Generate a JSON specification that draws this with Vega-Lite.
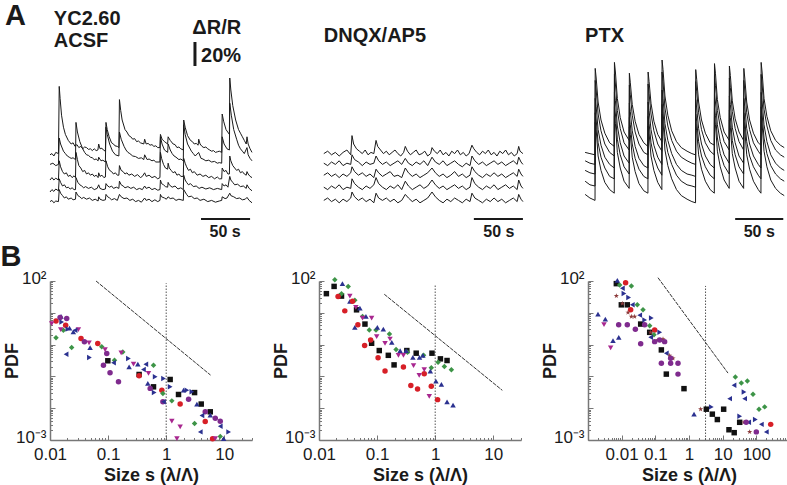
{
"$schema": "https://vega.github.io/schema/vega-lite/v6.json",
"padding": 0,
"background": "white",
"config": {
 "view": {"stroke": null},
 "font": "Liberation Sans",
 "axis": {"grid": false, "domainColor": "#777", "domainWidth": 1.5, "tickColor": "#777", "tickWidth": 1, "labelFont": "Liberation Sans", "labelFontSize": 17, "labelColor": "#1a1a1a", "titleFont": "Liberation Sans", "titleFontSize": 18, "titleFontWeight": "bold", "titleColor": "#1a1a1a", "labelOverlap": false, "labelFlush": false}
},
"columns": 3,
"spacing": {"row": 41, "column": 67},
"bounds": "flush",
"datasets": {
"a1": [
{"k":1,"t":0,"v":71},{"k":1,"t":2,"v":72},{"k":1,"t":4,"v":70},{"k":1,"t":6,"v":73},{"k":1,"t":8.8,"v":72},{"k":1,"t":9.6,"v":128},{"k":1,"t":10.5,"v":118},{"k":1,"t":12,"v":104},{"k":1,"t":14,"v":94},{"k":1,"t":16,"v":88},{"k":1,"t":19,"v":83},{"k":1,"t":22,"v":80},{"k":1,"t":24,"v":81},{"k":1,"t":26,"v":78},{"k":1,"t":28,"v":79.5},{"k":1,"t":30,"v":77},{"k":1,"t":32,"v":78},{"k":1,"t":34,"v":76},{"k":1,"t":36,"v":77.5},{"k":1,"t":38,"v":77},{"k":1,"t":40,"v":75.5},{"k":1,"t":42,"v":76},{"k":1,"t":44,"v":74.5},{"k":1,"t":46,"v":76},{"k":1,"t":48,"v":74.5},{"k":1,"t":49.8,"v":75},{"k":1,"t":50.6,"v":80},{"k":1,"t":52,"v":76},{"k":1,"t":54,"v":76.5},{"k":1,"t":55.5,"v":75},{"k":1,"t":57.6,"v":74},{"k":1,"t":58.2,"v":98},{"k":1,"t":59.5,"v":92},{"k":1,"t":61.5,"v":86},{"k":1,"t":64,"v":81},{"k":1,"t":66,"v":80},{"k":1,"t":67.5,"v":78.5},{"k":1,"t":70,"v":78},{"k":1,"t":71.6,"v":77},{"k":1,"t":72.2,"v":117},{"k":1,"t":73.5,"v":108},{"k":1,"t":75,"v":100},{"k":1,"t":78,"v":92},{"k":1,"t":80,"v":90},{"k":1,"t":82,"v":87},{"k":1,"t":84,"v":86},{"k":1,"t":86,"v":84},{"k":1,"t":88,"v":84.5},{"k":1,"t":90,"v":82},{"k":1,"t":92,"v":82.5},{"k":1,"t":94,"v":81},{"k":1,"t":97.5,"v":80},{"k":1,"t":98.4,"v":84},{"k":1,"t":100,"v":80},{"k":1,"t":102,"v":80.5},{"k":1,"t":104,"v":79},{"k":1,"t":106,"v":79.5},{"k":1,"t":108,"v":78},{"k":1,"t":110,"v":78.5},{"k":1,"t":112,"v":77},{"k":1,"t":114.3,"v":77},{"k":1,"t":114.8,"v":88},{"k":1,"t":116.5,"v":84},{"k":1,"t":119,"v":82},{"k":1,"t":122.3,"v":80},{"k":1,"t":122.8,"v":86},{"k":1,"t":125,"v":83},{"k":1,"t":128,"v":80},{"k":1,"t":130,"v":79.5},{"k":1,"t":132,"v":77},{"k":1,"t":134,"v":77.5},{"k":1,"t":136,"v":76},{"k":1,"t":138.6,"v":75},{"k":1,"t":139,"v":100},{"k":1,"t":140.5,"v":94},{"k":1,"t":143,"v":87},{"k":1,"t":146,"v":83},{"k":1,"t":148,"v":82},{"k":1,"t":150,"v":80},{"k":1,"t":152,"v":80.5},{"k":1,"t":154,"v":79},{"k":1,"t":154.6,"v":84},{"k":1,"t":156,"v":80},{"k":1,"t":158,"v":78},{"k":1,"t":160,"v":77},{"k":1,"t":162,"v":77.5},{"k":1,"t":164,"v":76},{"k":1,"t":166,"v":75},{"k":1,"t":168,"v":74},{"k":1,"t":170,"v":74.5},{"k":1,"t":172,"v":73},{"k":1,"t":174,"v":73.5},{"k":1,"t":176,"v":74},{"k":1,"t":178.5,"v":73},{"k":1,"t":179,"v":105},{"k":1,"t":180.5,"v":99},{"k":1,"t":183,"v":92},{"k":1,"t":186.5,"v":88},{"k":1,"t":186.9,"v":135},{"k":1,"t":188,"v":125},{"k":1,"t":190,"v":112},{"k":1,"t":193,"v":100},{"k":1,"t":196,"v":92},{"k":1,"t":198,"v":89},{"k":1,"t":200,"v":86},{"k":1,"t":202,"v":83},{"k":1,"t":204,"v":80},{"k":1,"t":204.8,"v":86},{"k":1,"t":206,"v":80},{"k":1,"t":208,"v":76},{"k":1,"t":210,"v":73},
{"k":2,"t":0,"v":63},{"k":2,"t":3,"v":64},{"k":2,"t":6,"v":62},{"k":2,"t":8.8,"v":63},{"k":2,"t":9.6,"v":85},{"k":2,"t":11,"v":80},{"k":2,"t":14,"v":74},{"k":2,"t":16,"v":72},{"k":2,"t":18,"v":70},{"k":2,"t":20,"v":69},{"k":2,"t":22,"v":68},{"k":2,"t":24,"v":68.5},{"k":2,"t":26.5,"v":67},{"k":2,"t":27,"v":98},{"k":2,"t":28.5,"v":90},{"k":2,"t":31,"v":82},{"k":2,"t":34,"v":76},{"k":2,"t":36,"v":73},{"k":2,"t":38,"v":71},{"k":2,"t":40,"v":70.5},{"k":2,"t":42,"v":69},{"k":2,"t":44,"v":68.5},{"k":2,"t":46,"v":67},{"k":2,"t":48,"v":67.5},{"k":2,"t":50,"v":66},{"k":2,"t":50.6,"v":69},{"k":2,"t":53,"v":66},{"k":2,"t":55,"v":66.5},{"k":2,"t":57.6,"v":65},{"k":2,"t":58.2,"v":94},{"k":2,"t":59.5,"v":88},{"k":2,"t":62,"v":80},{"k":2,"t":65,"v":74},{"k":2,"t":68,"v":71},{"k":2,"t":71.6,"v":70},{"k":2,"t":72.2,"v":90},{"k":2,"t":74,"v":84},{"k":2,"t":77,"v":78},{"k":2,"t":79,"v":75},{"k":2,"t":81,"v":73},{"k":2,"t":83,"v":72},{"k":2,"t":86,"v":70},{"k":2,"t":89,"v":69.5},{"k":2,"t":92,"v":68},{"k":2,"t":95,"v":68.5},{"k":2,"t":97.5,"v":67},{"k":2,"t":98.4,"v":71},{"k":2,"t":101,"v":67},{"k":2,"t":103,"v":67.5},{"k":2,"t":106,"v":66},{"k":2,"t":108,"v":66.5},{"k":2,"t":110,"v":65},{"k":2,"t":114.3,"v":65},{"k":2,"t":114.8,"v":86},{"k":2,"t":116.5,"v":80},{"k":2,"t":119,"v":75},{"k":2,"t":122.3,"v":73},{"k":2,"t":122.8,"v":80},{"k":2,"t":125,"v":75},{"k":2,"t":127,"v":72},{"k":2,"t":129,"v":70},{"k":2,"t":131,"v":69},{"k":2,"t":134,"v":67},{"k":2,"t":136,"v":67.5},{"k":2,"t":138.6,"v":66},{"k":2,"t":139,"v":96},{"k":2,"t":140.5,"v":88},{"k":2,"t":143,"v":80},{"k":2,"t":147,"v":74},{"k":2,"t":149,"v":72},{"k":2,"t":151,"v":70},{"k":2,"t":154.5,"v":73},{"k":2,"t":157,"v":68},{"k":2,"t":159,"v":67.5},{"k":2,"t":162,"v":66},{"k":2,"t":165,"v":66.5},{"k":2,"t":168,"v":65},{"k":2,"t":171,"v":65.5},{"k":2,"t":174,"v":64},{"k":2,"t":176,"v":64.5},{"k":2,"t":178.5,"v":64},{"k":2,"t":179,"v":86},{"k":2,"t":181,"v":80},{"k":2,"t":184,"v":76},{"k":2,"t":186.5,"v":75},{"k":2,"t":186.9,"v":114},{"k":2,"t":188.5,"v":104},{"k":2,"t":191,"v":92},{"k":2,"t":194,"v":84},{"k":2,"t":196,"v":79},{"k":2,"t":198,"v":76},{"k":2,"t":200,"v":74},{"k":2,"t":202,"v":72},{"k":2,"t":204.8,"v":77},{"k":2,"t":206,"v":71},{"k":2,"t":208,"v":68},{"k":2,"t":210,"v":66},
{"k":3,"t":0,"v":50},{"k":3,"t":2,"v":52},{"k":3,"t":4,"v":50},{"k":3,"t":6,"v":51.5},{"k":3,"t":8.8,"v":50},{"k":3,"t":9.6,"v":66},{"k":3,"t":11,"v":61},{"k":3,"t":13,"v":57},{"k":3,"t":15,"v":55},{"k":3,"t":17,"v":56},{"k":3,"t":19,"v":53},{"k":3,"t":21,"v":54},{"k":3,"t":23,"v":52},{"k":3,"t":25,"v":53.5},{"k":3,"t":26.5,"v":52},{"k":3,"t":27,"v":73},{"k":3,"t":28.5,"v":67},{"k":3,"t":30,"v":62},{"k":3,"t":32,"v":60},{"k":3,"t":34,"v":57},{"k":3,"t":36,"v":58},{"k":3,"t":38,"v":55},{"k":3,"t":40,"v":56},{"k":3,"t":42,"v":54},{"k":3,"t":44,"v":55},{"k":3,"t":46,"v":53},{"k":3,"t":48,"v":54},{"k":3,"t":50,"v":52},{"k":3,"t":50.6,"v":56},{"k":3,"t":52,"v":53},{"k":3,"t":54,"v":54},{"k":3,"t":56,"v":52},{"k":3,"t":57.6,"v":52.5},{"k":3,"t":58.2,"v":66},{"k":3,"t":60,"v":61},{"k":3,"t":62,"v":58},{"k":3,"t":64,"v":57},{"k":3,"t":66,"v":55},{"k":3,"t":68,"v":56},{"k":3,"t":70,"v":54},{"k":3,"t":71.6,"v":54},{"k":3,"t":72.2,"v":62},{"k":3,"t":74,"v":58},{"k":3,"t":76,"v":57},{"k":3,"t":78,"v":55},{"k":3,"t":80,"v":56},{"k":3,"t":82,"v":54},{"k":3,"t":85,"v":55},{"k":3,"t":88,"v":53},{"k":3,"t":91,"v":54.5},{"k":3,"t":94,"v":52},{"k":3,"t":96,"v":53},{"k":3,"t":98.4,"v":56},{"k":3,"t":100,"v":53},{"k":3,"t":103,"v":54},{"k":3,"t":106,"v":52},{"k":3,"t":109,"v":53},{"k":3,"t":112,"v":51},{"k":3,"t":114.3,"v":52},{"k":3,"t":114.8,"v":73},{"k":3,"t":116,"v":68},{"k":3,"t":118,"v":63},{"k":3,"t":120,"v":60},{"k":3,"t":122.3,"v":59},{"k":3,"t":122.8,"v":64},{"k":3,"t":124,"v":60},{"k":3,"t":126,"v":58},{"k":3,"t":128,"v":56},{"k":3,"t":130,"v":57},{"k":3,"t":132,"v":54},{"k":3,"t":134,"v":55},{"k":3,"t":136,"v":53},{"k":3,"t":138.6,"v":53},{"k":3,"t":139,"v":68},{"k":3,"t":140.5,"v":64},{"k":3,"t":142,"v":61},{"k":3,"t":144,"v":58},{"k":3,"t":146,"v":59},{"k":3,"t":148,"v":56},{"k":3,"t":150,"v":57},{"k":3,"t":153,"v":54},{"k":3,"t":156,"v":55},{"k":3,"t":159,"v":53},{"k":3,"t":162,"v":54},{"k":3,"t":165,"v":52},{"k":3,"t":168,"v":53},{"k":3,"t":171,"v":51},{"k":3,"t":174,"v":52.5},{"k":3,"t":176,"v":51},{"k":3,"t":178.5,"v":51},{"k":3,"t":179,"v":60},{"k":3,"t":181,"v":57},{"k":3,"t":183,"v":58},{"k":3,"t":185,"v":55},{"k":3,"t":186.5,"v":55},{"k":3,"t":186.9,"v":70},{"k":3,"t":188,"v":66},{"k":3,"t":190,"v":62},{"k":3,"t":192,"v":60},{"k":3,"t":194,"v":58},{"k":3,"t":196,"v":59},{"k":3,"t":198,"v":56},{"k":3,"t":200,"v":57},{"k":3,"t":202,"v":55},{"k":3,"t":204,"v":54},{"k":3,"t":204.8,"v":57},{"k":3,"t":206,"v":55},{"k":3,"t":208,"v":53},{"k":3,"t":210,"v":52},
{"k":4,"t":0,"v":40},{"k":4,"t":2,"v":42},{"k":4,"t":4,"v":40.5},{"k":4,"t":6,"v":42.5},{"k":4,"t":8.8,"v":41},{"k":4,"t":9.6,"v":51},{"k":4,"t":11,"v":48},{"k":4,"t":13,"v":45},{"k":4,"t":15,"v":46},{"k":4,"t":17,"v":43.5},{"k":4,"t":19,"v":44},{"k":4,"t":21,"v":42.5},{"k":4,"t":23,"v":43.5},{"k":4,"t":25,"v":42},{"k":4,"t":26.5,"v":42},{"k":4,"t":27,"v":52},{"k":4,"t":29,"v":48},{"k":4,"t":31,"v":46},{"k":4,"t":33,"v":45},{"k":4,"t":35,"v":43.5},{"k":4,"t":37,"v":44.5},{"k":4,"t":40,"v":43},{"k":4,"t":43,"v":44},{"k":4,"t":46,"v":42},{"k":4,"t":49,"v":43},{"k":4,"t":50.6,"v":46},{"k":4,"t":52,"v":43},{"k":4,"t":55,"v":42},{"k":4,"t":57.6,"v":42.5},{"k":4,"t":58.2,"v":47},{"k":4,"t":60,"v":45},{"k":4,"t":62,"v":44},{"k":4,"t":64,"v":45},{"k":4,"t":66,"v":43},{"k":4,"t":69,"v":44},{"k":4,"t":71.6,"v":43},{"k":4,"t":72.2,"v":49},{"k":4,"t":74,"v":46},{"k":4,"t":76,"v":45},{"k":4,"t":78,"v":43.5},{"k":4,"t":81,"v":44.5},{"k":4,"t":84,"v":43},{"k":4,"t":87,"v":44},{"k":4,"t":90,"v":42},{"k":4,"t":93,"v":43},{"k":4,"t":96,"v":42},{"k":4,"t":98.4,"v":45},{"k":4,"t":100,"v":43},{"k":4,"t":103,"v":44},{"k":4,"t":106,"v":42},{"k":4,"t":109,"v":43},{"k":4,"t":112,"v":41.5},{"k":4,"t":114.3,"v":42},{"k":4,"t":114.8,"v":50},{"k":4,"t":116,"v":47},{"k":4,"t":118,"v":46},{"k":4,"t":120,"v":44.5},{"k":4,"t":122.3,"v":44},{"k":4,"t":122.8,"v":48},{"k":4,"t":124,"v":46},{"k":4,"t":127,"v":44},{"k":4,"t":130,"v":45},{"k":4,"t":133,"v":42.5},{"k":4,"t":136,"v":43.5},{"k":4,"t":138.6,"v":42},{"k":4,"t":139,"v":54},{"k":4,"t":140.5,"v":50},{"k":4,"t":142,"v":48},{"k":4,"t":144,"v":46},{"k":4,"t":146,"v":47},{"k":4,"t":149,"v":44.5},{"k":4,"t":152,"v":45},{"k":4,"t":155,"v":43},{"k":4,"t":158,"v":44},{"k":4,"t":162,"v":42.5},{"k":4,"t":166,"v":43.5},{"k":4,"t":170,"v":42},{"k":4,"t":174,"v":43},{"k":4,"t":178.5,"v":42},{"k":4,"t":179,"v":47},{"k":4,"t":181,"v":45},{"k":4,"t":183,"v":46},{"k":4,"t":185,"v":44},{"k":4,"t":186.9,"v":53},{"k":4,"t":188,"v":50},{"k":4,"t":190,"v":48},{"k":4,"t":192,"v":46},{"k":4,"t":195,"v":46.5},{"k":4,"t":198,"v":44.5},{"k":4,"t":201,"v":45},{"k":4,"t":204,"v":43},{"k":4,"t":204.8,"v":46},{"k":4,"t":207,"v":43},{"k":4,"t":210,"v":41},
{"k":5,"t":0,"v":32},{"k":5,"t":2,"v":33},{"k":5,"t":4,"v":31},{"k":5,"t":6,"v":32.5},{"k":5,"t":8.8,"v":32},{"k":5,"t":9.6,"v":42},{"k":5,"t":11,"v":39},{"k":5,"t":13,"v":37},{"k":5,"t":15,"v":35},{"k":5,"t":17,"v":36},{"k":5,"t":19,"v":34},{"k":5,"t":22,"v":35},{"k":5,"t":24,"v":33.5},{"k":5,"t":26.5,"v":34},{"k":5,"t":27,"v":40},{"k":5,"t":29,"v":37},{"k":5,"t":31,"v":36},{"k":5,"t":33,"v":34.5},{"k":5,"t":35,"v":35.5},{"k":5,"t":38,"v":34},{"k":5,"t":41,"v":35},{"k":5,"t":44,"v":33},{"k":5,"t":47,"v":34},{"k":5,"t":50,"v":32.5},{"k":5,"t":50.6,"v":36},{"k":5,"t":52,"v":34},{"k":5,"t":55,"v":33},{"k":5,"t":57.6,"v":33.5},{"k":5,"t":58.2,"v":38},{"k":5,"t":60,"v":36},{"k":5,"t":62,"v":35},{"k":5,"t":64,"v":33.5},{"k":5,"t":67,"v":34.5},{"k":5,"t":70,"v":33},{"k":5,"t":72.2,"v":38},{"k":5,"t":74,"v":36},{"k":5,"t":77,"v":34.5},{"k":5,"t":80,"v":35},{"k":5,"t":83,"v":33},{"k":5,"t":86,"v":34},{"k":5,"t":89,"v":32},{"k":5,"t":92,"v":33},{"k":5,"t":95,"v":31.5},{"k":5,"t":98.4,"v":35},{"k":5,"t":100,"v":33},{"k":5,"t":103,"v":34},{"k":5,"t":106,"v":32},{"k":5,"t":109,"v":33.5},{"k":5,"t":112,"v":32},{"k":5,"t":114.3,"v":33},{"k":5,"t":114.8,"v":38},{"k":5,"t":116,"v":36},{"k":5,"t":119,"v":35},{"k":5,"t":121,"v":34},{"k":5,"t":122.8,"v":36},{"k":5,"t":125,"v":34.5},{"k":5,"t":128,"v":35},{"k":5,"t":131,"v":33},{"k":5,"t":134,"v":34},{"k":5,"t":138.6,"v":33},{"k":5,"t":139,"v":42},{"k":5,"t":140.5,"v":40},{"k":5,"t":142,"v":38},{"k":5,"t":144,"v":36},{"k":5,"t":147,"v":36.5},{"k":5,"t":150,"v":34.5},{"k":5,"t":153,"v":35},{"k":5,"t":156,"v":33},{"k":5,"t":160,"v":34},{"k":5,"t":164,"v":32},{"k":5,"t":168,"v":33},{"k":5,"t":172,"v":31.5},{"k":5,"t":176,"v":32.5},{"k":5,"t":178.5,"v":33},{"k":5,"t":179,"v":36},{"k":5,"t":182,"v":34.5},{"k":5,"t":184,"v":35},{"k":5,"t":186.9,"v":39},{"k":5,"t":188,"v":37},{"k":5,"t":191,"v":36},{"k":5,"t":194,"v":34.5},{"k":5,"t":197,"v":35},{"k":5,"t":200,"v":33.5},{"k":5,"t":203,"v":34},{"k":5,"t":204.8,"v":35.5},{"k":5,"t":207,"v":33},{"k":5,"t":210,"v":31}
],
"a2": [
{"k":1,"t":5,"v":72},{"k":1,"t":9,"v":74},{"k":1,"t":13,"v":71},{"k":1,"t":17,"v":73},{"k":1,"t":21,"v":70},{"k":1,"t":25,"v":73},{"k":1,"t":29,"v":75},{"k":1,"t":33,"v":71},{"k":1,"t":34.3,"v":87},{"k":1,"t":36,"v":80},{"k":1,"t":39,"v":76},{"k":1,"t":42,"v":74},{"k":1,"t":45,"v":72},{"k":1,"t":48,"v":75},{"k":1,"t":51,"v":71},{"k":1,"t":54,"v":73},{"k":1,"t":57,"v":72},{"k":1,"t":59.3,"v":83},{"k":1,"t":61,"v":78},{"k":1,"t":64,"v":75},{"k":1,"t":67,"v":72},{"k":1,"t":70,"v":74},{"k":1,"t":73,"v":71},{"k":1,"t":76,"v":73},{"k":1,"t":79,"v":75},{"k":1,"t":82,"v":72},{"k":1,"t":85,"v":70},{"k":1,"t":88,"v":73},{"k":1,"t":89.7,"v":78},{"k":1,"t":92,"v":74},{"k":1,"t":95,"v":71},{"k":1,"t":98,"v":73},{"k":1,"t":101,"v":75},{"k":1,"t":104,"v":71},{"k":1,"t":107,"v":72},{"k":1,"t":110,"v":74},{"k":1,"t":113,"v":70},{"k":1,"t":116,"v":72},{"k":1,"t":117.5,"v":77},{"k":1,"t":120,"v":74},{"k":1,"t":123,"v":72},{"k":1,"t":126,"v":75},{"k":1,"t":129,"v":71},{"k":1,"t":132,"v":73},{"k":1,"t":135,"v":70},{"k":1,"t":138,"v":74},{"k":1,"t":141,"v":72},{"k":1,"t":144,"v":75},{"k":1,"t":147,"v":71},{"k":1,"t":150,"v":73},{"k":1,"t":153,"v":70},{"k":1,"t":156,"v":72},{"k":1,"t":159,"v":79},{"k":1,"t":161,"v":76},{"k":1,"t":164,"v":73},{"k":1,"t":167,"v":71},{"k":1,"t":170,"v":74},{"k":1,"t":173,"v":72},{"k":1,"t":176,"v":75},{"k":1,"t":179,"v":71},{"k":1,"t":182,"v":73},{"k":1,"t":185,"v":70},{"k":1,"t":188,"v":74},{"k":1,"t":191,"v":72},{"k":1,"t":194,"v":75},{"k":1,"t":197,"v":71},{"k":1,"t":200,"v":73},{"k":1,"t":203,"v":70},{"k":1,"t":206,"v":72},{"k":1,"t":207.6,"v":78},{"k":1,"t":209,"v":74},{"k":1,"t":212,"v":72},
{"k":2,"t":5,"v":64},{"k":2,"t":9,"v":62},{"k":2,"t":13,"v":65},{"k":2,"t":17,"v":63},{"k":2,"t":21,"v":66},{"k":2,"t":25,"v":62},{"k":2,"t":29,"v":64},{"k":2,"t":33,"v":63},{"k":2,"t":34.3,"v":71},{"k":2,"t":37,"v":67},{"k":2,"t":41,"v":65},{"k":2,"t":45,"v":62},{"k":2,"t":49,"v":65},{"k":2,"t":53,"v":63},{"k":2,"t":57,"v":64},{"k":2,"t":59.3,"v":70},{"k":2,"t":62,"v":66},{"k":2,"t":66,"v":63},{"k":2,"t":70,"v":65},{"k":2,"t":74,"v":62},{"k":2,"t":78,"v":64},{"k":2,"t":82,"v":66},{"k":2,"t":86,"v":63},{"k":2,"t":89.7,"v":68},{"k":2,"t":93,"v":64},{"k":2,"t":97,"v":62},{"k":2,"t":101,"v":65},{"k":2,"t":105,"v":63},{"k":2,"t":109,"v":66},{"k":2,"t":113,"v":62},{"k":2,"t":117.5,"v":69},{"k":2,"t":121,"v":65},{"k":2,"t":125,"v":63},{"k":2,"t":129,"v":66},{"k":2,"t":133,"v":62},{"k":2,"t":137,"v":64},{"k":2,"t":141,"v":66},{"k":2,"t":145,"v":63},{"k":2,"t":149,"v":61},{"k":2,"t":153,"v":64},{"k":2,"t":157,"v":62},{"k":2,"t":159,"v":70},{"k":2,"t":162,"v":66},{"k":2,"t":166,"v":63},{"k":2,"t":170,"v":65},{"k":2,"t":174,"v":62},{"k":2,"t":178,"v":64},{"k":2,"t":182,"v":66},{"k":2,"t":186,"v":63},{"k":2,"t":190,"v":65},{"k":2,"t":194,"v":62},{"k":2,"t":198,"v":64},{"k":2,"t":202,"v":66},{"k":2,"t":206,"v":63},{"k":2,"t":207.6,"v":69},{"k":2,"t":210,"v":65},{"k":2,"t":212,"v":63},
{"k":3,"t":5,"v":54},{"k":3,"t":9,"v":56},{"k":3,"t":13,"v":53},{"k":3,"t":17,"v":55},{"k":3,"t":21,"v":52},{"k":3,"t":25,"v":55},{"k":3,"t":29,"v":53},{"k":3,"t":33,"v":56},{"k":3,"t":34.3,"v":61},{"k":3,"t":37,"v":57},{"k":3,"t":41,"v":54},{"k":3,"t":45,"v":56},{"k":3,"t":49,"v":53},{"k":3,"t":53,"v":55},{"k":3,"t":57,"v":52},{"k":3,"t":59.3,"v":59},{"k":3,"t":62,"v":56},{"k":3,"t":66,"v":53},{"k":3,"t":70,"v":55},{"k":3,"t":74,"v":57},{"k":3,"t":78,"v":53},{"k":3,"t":82,"v":54},{"k":3,"t":86,"v":52},{"k":3,"t":89.7,"v":60},{"k":3,"t":93,"v":56},{"k":3,"t":97,"v":53},{"k":3,"t":101,"v":55},{"k":3,"t":105,"v":52},{"k":3,"t":109,"v":54},{"k":3,"t":113,"v":56},{"k":3,"t":117.5,"v":60},{"k":3,"t":121,"v":56},{"k":3,"t":125,"v":53},{"k":3,"t":129,"v":55},{"k":3,"t":133,"v":52},{"k":3,"t":137,"v":54},{"k":3,"t":141,"v":57},{"k":3,"t":145,"v":53},{"k":3,"t":149,"v":55},{"k":3,"t":153,"v":52},{"k":3,"t":157,"v":54},{"k":3,"t":159,"v":61},{"k":3,"t":162,"v":57},{"k":3,"t":166,"v":54},{"k":3,"t":170,"v":52},{"k":3,"t":174,"v":55},{"k":3,"t":178,"v":53},{"k":3,"t":182,"v":56},{"k":3,"t":186,"v":53},{"k":3,"t":190,"v":55},{"k":3,"t":194,"v":52},{"k":3,"t":198,"v":54},{"k":3,"t":202,"v":56},{"k":3,"t":206,"v":53},{"k":3,"t":207.6,"v":59},{"k":3,"t":210,"v":55},{"k":3,"t":212,"v":53},
{"k":4,"t":5,"v":44},{"k":4,"t":9,"v":42},{"k":4,"t":13,"v":45},{"k":4,"t":17,"v":43},{"k":4,"t":21,"v":46},{"k":4,"t":25,"v":42},{"k":4,"t":29,"v":44},{"k":4,"t":33,"v":43},{"k":4,"t":34.3,"v":51},{"k":4,"t":37,"v":47},{"k":4,"t":41,"v":44},{"k":4,"t":45,"v":42},{"k":4,"t":49,"v":45},{"k":4,"t":53,"v":43},{"k":4,"t":57,"v":46},{"k":4,"t":59.3,"v":52},{"k":4,"t":62,"v":47},{"k":4,"t":66,"v":44},{"k":4,"t":70,"v":42},{"k":4,"t":74,"v":45},{"k":4,"t":78,"v":43},{"k":4,"t":82,"v":46},{"k":4,"t":86,"v":42},{"k":4,"t":89.7,"v":49},{"k":4,"t":93,"v":45},{"k":4,"t":97,"v":42},{"k":4,"t":101,"v":44},{"k":4,"t":105,"v":46},{"k":4,"t":109,"v":43},{"k":4,"t":113,"v":45},{"k":4,"t":117.5,"v":50},{"k":4,"t":121,"v":46},{"k":4,"t":125,"v":43},{"k":4,"t":129,"v":45},{"k":4,"t":133,"v":42},{"k":4,"t":137,"v":44},{"k":4,"t":141,"v":46},{"k":4,"t":145,"v":43},{"k":4,"t":149,"v":45},{"k":4,"t":153,"v":42},{"k":4,"t":157,"v":44},{"k":4,"t":159,"v":52},{"k":4,"t":162,"v":47},{"k":4,"t":166,"v":44},{"k":4,"t":170,"v":42},{"k":4,"t":174,"v":45},{"k":4,"t":178,"v":43},{"k":4,"t":182,"v":46},{"k":4,"t":186,"v":42},{"k":4,"t":190,"v":44},{"k":4,"t":194,"v":46},{"k":4,"t":198,"v":43},{"k":4,"t":202,"v":45},{"k":4,"t":206,"v":42},{"k":4,"t":207.6,"v":50},{"k":4,"t":210,"v":45},{"k":4,"t":212,"v":43},
{"k":5,"t":5,"v":33},{"k":5,"t":9,"v":35},{"k":5,"t":13,"v":32},{"k":5,"t":17,"v":34},{"k":5,"t":21,"v":31},{"k":5,"t":25,"v":34},{"k":5,"t":29,"v":32},{"k":5,"t":33,"v":35},{"k":5,"t":34.3,"v":40},{"k":5,"t":37,"v":36},{"k":5,"t":41,"v":33},{"k":5,"t":45,"v":35},{"k":5,"t":49,"v":32},{"k":5,"t":53,"v":34},{"k":5,"t":57,"v":31},{"k":5,"t":59.3,"v":39},{"k":5,"t":62,"v":35},{"k":5,"t":66,"v":33},{"k":5,"t":70,"v":35},{"k":5,"t":74,"v":32},{"k":5,"t":78,"v":34},{"k":5,"t":82,"v":31},{"k":5,"t":86,"v":33},{"k":5,"t":89.7,"v":38},{"k":5,"t":93,"v":35},{"k":5,"t":97,"v":32},{"k":5,"t":101,"v":34},{"k":5,"t":105,"v":31},{"k":5,"t":109,"v":33},{"k":5,"t":113,"v":35},{"k":5,"t":117.5,"v":40},{"k":5,"t":121,"v":36},{"k":5,"t":125,"v":33},{"k":5,"t":129,"v":31},{"k":5,"t":133,"v":34},{"k":5,"t":137,"v":32},{"k":5,"t":141,"v":35},{"k":5,"t":145,"v":33},{"k":5,"t":149,"v":31},{"k":5,"t":153,"v":34},{"k":5,"t":157,"v":32},{"k":5,"t":159,"v":39},{"k":5,"t":162,"v":35},{"k":5,"t":166,"v":33},{"k":5,"t":170,"v":31},{"k":5,"t":174,"v":34},{"k":5,"t":178,"v":32},{"k":5,"t":182,"v":35},{"k":5,"t":186,"v":32},{"k":5,"t":190,"v":34},{"k":5,"t":194,"v":31},{"k":5,"t":198,"v":33},{"k":5,"t":202,"v":35},{"k":5,"t":206,"v":32},{"k":5,"t":207.6,"v":38},{"k":5,"t":210,"v":34},{"k":5,"t":212,"v":32}
],
"a3": [
{"k":1,"t":-3,"v":73},{"k":1,"t":2,"v":72},{"k":1,"t":7.3,"v":71},{"k":1,"t":7.5,"v":143},{"k":1,"t":8.5,"v":135},{"k":1,"t":10.5,"v":115},{"k":1,"t":13.5,"v":100},{"k":1,"t":17.5,"v":89},{"k":1,"t":22.5,"v":81},{"k":1,"t":27.3,"v":78},{"k":1,"t":27.5,"v":148},{"k":1,"t":28.5,"v":140},{"k":1,"t":30.5,"v":118},{"k":1,"t":33.5,"v":102},{"k":1,"t":37.5,"v":90},{"k":1,"t":42.8,"v":83},{"k":1,"t":43,"v":139},{"k":1,"t":44,"v":131},{"k":1,"t":46,"v":113},{"k":1,"t":49,"v":99},{"k":1,"t":53,"v":88},{"k":1,"t":58,"v":81},{"k":1,"t":62.3,"v":78},{"k":1,"t":62.5,"v":140},{"k":1,"t":63.5,"v":132},{"k":1,"t":65.5,"v":114},{"k":1,"t":68.5,"v":99},{"k":1,"t":72.5,"v":88},{"k":1,"t":76.8,"v":82},{"k":1,"t":77,"v":150},{"k":1,"t":78,"v":142},{"k":1,"t":80,"v":120},{"k":1,"t":83,"v":104},{"k":1,"t":87,"v":91},{"k":1,"t":92,"v":82},{"k":1,"t":97,"v":77},{"k":1,"t":103,"v":74},{"k":1,"t":108,"v":72},{"k":1,"t":111.8,"v":71},{"k":1,"t":112,"v":142},{"k":1,"t":113,"v":134},{"k":1,"t":115,"v":115},{"k":1,"t":118,"v":100},{"k":1,"t":122,"v":89},{"k":1,"t":127,"v":81},{"k":1,"t":131.3,"v":79},{"k":1,"t":131.5,"v":147},{"k":1,"t":132.5,"v":139},{"k":1,"t":134.5,"v":117},{"k":1,"t":137.5,"v":102},{"k":1,"t":141.5,"v":90},{"k":1,"t":146.8,"v":83},{"k":1,"t":147,"v":145},{"k":1,"t":148,"v":137},{"k":1,"t":150,"v":116},{"k":1,"t":153,"v":101},{"k":1,"t":157,"v":90},{"k":1,"t":161.8,"v":83},{"k":1,"t":162,"v":143},{"k":1,"t":163,"v":135},{"k":1,"t":165,"v":115},{"k":1,"t":168,"v":100},{"k":1,"t":172,"v":89},{"k":1,"t":177,"v":81},{"k":1,"t":179.8,"v":79},{"k":1,"t":180,"v":148},{"k":1,"t":181,"v":140},{"k":1,"t":183,"v":118},{"k":1,"t":186,"v":103},{"k":1,"t":190,"v":91},{"k":1,"t":195,"v":83},{"k":1,"t":200,"v":79},{"k":1,"t":204,"v":77},
{"k":2,"t":-3,"v":66},{"k":2,"t":2,"v":64},{"k":2,"t":7.3,"v":63},{"k":2,"t":7.5,"v":133},{"k":2,"t":8.5,"v":125},{"k":2,"t":10.5,"v":105},{"k":2,"t":13.5,"v":91},{"k":2,"t":17.5,"v":80},{"k":2,"t":22.5,"v":73},{"k":2,"t":27.3,"v":70},{"k":2,"t":27.5,"v":138},{"k":2,"t":28.5,"v":130},{"k":2,"t":30.5,"v":108},{"k":2,"t":33.5,"v":93},{"k":2,"t":37.5,"v":81},{"k":2,"t":42.8,"v":75},{"k":2,"t":43,"v":129},{"k":2,"t":44,"v":121},{"k":2,"t":46,"v":104},{"k":2,"t":49,"v":90},{"k":2,"t":53,"v":80},{"k":2,"t":58,"v":73},{"k":2,"t":62.3,"v":71},{"k":2,"t":62.5,"v":130},{"k":2,"t":63.5,"v":122},{"k":2,"t":65.5,"v":105},{"k":2,"t":68.5,"v":91},{"k":2,"t":72.5,"v":80},{"k":2,"t":76.8,"v":74},{"k":2,"t":77,"v":140},{"k":2,"t":78,"v":132},{"k":2,"t":80,"v":110},{"k":2,"t":83,"v":95},{"k":2,"t":87,"v":83},{"k":2,"t":92,"v":74},{"k":2,"t":97,"v":69},{"k":2,"t":103,"v":66},{"k":2,"t":108,"v":64},{"k":2,"t":111.8,"v":63},{"k":2,"t":112,"v":132},{"k":2,"t":113,"v":124},{"k":2,"t":115,"v":106},{"k":2,"t":118,"v":92},{"k":2,"t":122,"v":81},{"k":2,"t":127,"v":74},{"k":2,"t":131.3,"v":71},{"k":2,"t":131.5,"v":137},{"k":2,"t":132.5,"v":129},{"k":2,"t":134.5,"v":108},{"k":2,"t":137.5,"v":94},{"k":2,"t":141.5,"v":82},{"k":2,"t":146.8,"v":75},{"k":2,"t":147,"v":135},{"k":2,"t":148,"v":127},{"k":2,"t":150,"v":107},{"k":2,"t":153,"v":93},{"k":2,"t":157,"v":82},{"k":2,"t":161.8,"v":75},{"k":2,"t":162,"v":133},{"k":2,"t":163,"v":125},{"k":2,"t":165,"v":106},{"k":2,"t":168,"v":92},{"k":2,"t":172,"v":81},{"k":2,"t":177,"v":74},{"k":2,"t":179.8,"v":71},{"k":2,"t":180,"v":138},{"k":2,"t":181,"v":130},{"k":2,"t":183,"v":109},{"k":2,"t":186,"v":95},{"k":2,"t":190,"v":83},{"k":2,"t":195,"v":75},{"k":2,"t":200,"v":71},{"k":2,"t":204,"v":69},
{"k":3,"t":-3,"v":58},{"k":3,"t":2,"v":56},{"k":3,"t":7.3,"v":55},{"k":3,"t":7.5,"v":118},{"k":3,"t":8.5,"v":111},{"k":3,"t":10.5,"v":92},{"k":3,"t":13.5,"v":79},{"k":3,"t":17.5,"v":69},{"k":3,"t":22.5,"v":63},{"k":3,"t":27.3,"v":60},{"k":3,"t":27.5,"v":123},{"k":3,"t":28.5,"v":116},{"k":3,"t":30.5,"v":95},{"k":3,"t":33.5,"v":81},{"k":3,"t":37.5,"v":70},{"k":3,"t":42.8,"v":64},{"k":3,"t":43,"v":114},{"k":3,"t":44,"v":107},{"k":3,"t":46,"v":91},{"k":3,"t":49,"v":78},{"k":3,"t":53,"v":68},{"k":3,"t":58,"v":62},{"k":3,"t":62.3,"v":60},{"k":3,"t":62.5,"v":115},{"k":3,"t":63.5,"v":108},{"k":3,"t":65.5,"v":92},{"k":3,"t":68.5,"v":79},{"k":3,"t":72.5,"v":69},{"k":3,"t":76.8,"v":63},{"k":3,"t":77,"v":125},{"k":3,"t":78,"v":118},{"k":3,"t":80,"v":97},{"k":3,"t":83,"v":83},{"k":3,"t":87,"v":72},{"k":3,"t":92,"v":63},{"k":3,"t":97,"v":58},{"k":3,"t":103,"v":55},{"k":3,"t":108,"v":54},{"k":3,"t":111.8,"v":53},{"k":3,"t":112,"v":117},{"k":3,"t":113,"v":110},{"k":3,"t":115,"v":93},{"k":3,"t":118,"v":80},{"k":3,"t":122,"v":70},{"k":3,"t":127,"v":63},{"k":3,"t":131.3,"v":60},{"k":3,"t":131.5,"v":122},{"k":3,"t":132.5,"v":115},{"k":3,"t":134.5,"v":96},{"k":3,"t":137.5,"v":82},{"k":3,"t":141.5,"v":71},{"k":3,"t":146.8,"v":64},{"k":3,"t":147,"v":120},{"k":3,"t":148,"v":113},{"k":3,"t":150,"v":94},{"k":3,"t":153,"v":81},{"k":3,"t":157,"v":70},{"k":3,"t":161.8,"v":64},{"k":3,"t":162,"v":118},{"k":3,"t":163,"v":111},{"k":3,"t":165,"v":93},{"k":3,"t":168,"v":80},{"k":3,"t":172,"v":70},{"k":3,"t":177,"v":63},{"k":3,"t":179.8,"v":60},{"k":3,"t":180,"v":123},{"k":3,"t":181,"v":116},{"k":3,"t":183,"v":96},{"k":3,"t":186,"v":82},{"k":3,"t":190,"v":71},{"k":3,"t":195,"v":64},{"k":3,"t":200,"v":60},{"k":3,"t":204,"v":58},
{"k":4,"t":-3,"v":49},{"k":4,"t":2,"v":46},{"k":4,"t":7.3,"v":45},{"k":4,"t":7.5,"v":106},{"k":4,"t":8.5,"v":100},{"k":4,"t":10.5,"v":81},{"k":4,"t":13.5,"v":69},{"k":4,"t":17.5,"v":60},{"k":4,"t":22.5,"v":53},{"k":4,"t":27.3,"v":51},{"k":4,"t":27.5,"v":111},{"k":4,"t":28.5,"v":105},{"k":4,"t":30.5,"v":84},{"k":4,"t":33.5,"v":71},{"k":4,"t":37.5,"v":61},{"k":4,"t":42.8,"v":55},{"k":4,"t":43,"v":102},{"k":4,"t":44,"v":96},{"k":4,"t":46,"v":80},{"k":4,"t":49,"v":68},{"k":4,"t":53,"v":59},{"k":4,"t":58,"v":53},{"k":4,"t":62.3,"v":51},{"k":4,"t":62.5,"v":103},{"k":4,"t":63.5,"v":97},{"k":4,"t":65.5,"v":81},{"k":4,"t":68.5,"v":69},{"k":4,"t":72.5,"v":60},{"k":4,"t":76.8,"v":54},{"k":4,"t":77,"v":113},{"k":4,"t":78,"v":107},{"k":4,"t":80,"v":86},{"k":4,"t":83,"v":73},{"k":4,"t":87,"v":63},{"k":4,"t":92,"v":54},{"k":4,"t":97,"v":49},{"k":4,"t":103,"v":46},{"k":4,"t":108,"v":45},{"k":4,"t":111.8,"v":44},{"k":4,"t":112,"v":105},{"k":4,"t":113,"v":99},{"k":4,"t":115,"v":82},{"k":4,"t":118,"v":70},{"k":4,"t":122,"v":61},{"k":4,"t":127,"v":54},{"k":4,"t":131.3,"v":51},{"k":4,"t":131.5,"v":110},{"k":4,"t":132.5,"v":104},{"k":4,"t":134.5,"v":85},{"k":4,"t":137.5,"v":72},{"k":4,"t":141.5,"v":62},{"k":4,"t":146.8,"v":55},{"k":4,"t":147,"v":108},{"k":4,"t":148,"v":102},{"k":4,"t":150,"v":83},{"k":4,"t":153,"v":71},{"k":4,"t":157,"v":61},{"k":4,"t":161.8,"v":55},{"k":4,"t":162,"v":106},{"k":4,"t":163,"v":100},{"k":4,"t":165,"v":82},{"k":4,"t":168,"v":70},{"k":4,"t":172,"v":61},{"k":4,"t":177,"v":54},{"k":4,"t":179.8,"v":51},{"k":4,"t":180,"v":111},{"k":4,"t":181,"v":105},{"k":4,"t":183,"v":85},{"k":4,"t":186,"v":72},{"k":4,"t":190,"v":62},{"k":4,"t":195,"v":55},{"k":4,"t":200,"v":51},{"k":4,"t":204,"v":49},
{"k":5,"t":-3,"v":38},{"k":5,"t":2,"v":35},{"k":5,"t":7.3,"v":33},{"k":5,"t":7.5,"v":98},{"k":5,"t":8.5,"v":92},{"k":5,"t":10.5,"v":70},{"k":5,"t":13.5,"v":58},{"k":5,"t":17.5,"v":48},{"k":5,"t":22.5,"v":42},{"k":5,"t":27.3,"v":39},{"k":5,"t":27.5,"v":103},{"k":5,"t":28.5,"v":97},{"k":5,"t":30.5,"v":73},{"k":5,"t":33.5,"v":60},{"k":5,"t":37.5,"v":49},{"k":5,"t":42.8,"v":43},{"k":5,"t":43,"v":94},{"k":5,"t":44,"v":88},{"k":5,"t":46,"v":69},{"k":5,"t":49,"v":57},{"k":5,"t":53,"v":47},{"k":5,"t":58,"v":41},{"k":5,"t":62.3,"v":39},{"k":5,"t":62.5,"v":95},{"k":5,"t":63.5,"v":89},{"k":5,"t":65.5,"v":70},{"k":5,"t":68.5,"v":58},{"k":5,"t":72.5,"v":48},{"k":5,"t":76.8,"v":42},{"k":5,"t":77,"v":105},{"k":5,"t":78,"v":99},{"k":5,"t":80,"v":75},{"k":5,"t":83,"v":62},{"k":5,"t":87,"v":51},{"k":5,"t":92,"v":42},{"k":5,"t":97,"v":37},{"k":5,"t":103,"v":34},{"k":5,"t":108,"v":32},{"k":5,"t":111.8,"v":31},{"k":5,"t":112,"v":97},{"k":5,"t":113,"v":91},{"k":5,"t":115,"v":71},{"k":5,"t":118,"v":59},{"k":5,"t":122,"v":49},{"k":5,"t":127,"v":42},{"k":5,"t":131.3,"v":39},{"k":5,"t":131.5,"v":102},{"k":5,"t":132.5,"v":96},{"k":5,"t":134.5,"v":74},{"k":5,"t":137.5,"v":61},{"k":5,"t":141.5,"v":50},{"k":5,"t":146.8,"v":43},{"k":5,"t":147,"v":100},{"k":5,"t":148,"v":94},{"k":5,"t":150,"v":72},{"k":5,"t":153,"v":60},{"k":5,"t":157,"v":49},{"k":5,"t":161.8,"v":43},{"k":5,"t":162,"v":98},{"k":5,"t":163,"v":92},{"k":5,"t":165,"v":71},{"k":5,"t":168,"v":59},{"k":5,"t":172,"v":49},{"k":5,"t":177,"v":42},{"k":5,"t":179.8,"v":39},{"k":5,"t":180,"v":103},{"k":5,"t":181,"v":97},{"k":5,"t":183,"v":74},{"k":5,"t":186,"v":61},{"k":5,"t":190,"v":50},{"k":5,"t":195,"v":43},{"k":5,"t":200,"v":39},{"k":5,"t":204,"v":37}
],
"ann": [
{"p":"a1","g":"big","s":"A","t":-36,"v":187},
{"p":"a1","g":"ttl","s":"YC2.60","t":4,"v":184},
{"p":"a1","g":"ttl","s":"ACSF","t":4,"v":166},
{"p":"a1","g":"ttl","s":"ΔR/R","t":148,"v":177},
{"p":"a1","g":"ttl","s":"20%","t":157,"v":153},
{"p":"a1","g":"sb","s":"50 s","t":182,"v":6.5},
{"p":"a2","g":"ttl","s":"DNQX/AP5","t":5,"v":170},
{"p":"a2","g":"sb","s":"50 s","t":187,"v":6.5},
{"p":"a3","g":"ttl","s":"PTX","t":-3,"v":170},
{"p":"a3","g":"sb","s":"50 s","t":178,"v":6.5}
],
"sbar": [
{"p":"a1","t":157,"t2":208,"v":17.5},
{"p":"a2","t":161,"t2":212,"v":17.5},
{"p":"a3","t":153,"t2":203,"v":17.5}
],
"vbar": [{"t":150.7,"v":165,"v2":145}],
"vl": [{"p":1,"x":1,"y":0.001,"y2":85},{"p":2,"x":1,"y":0.001,"y2":80},{"p":3,"x":3.1,"y":0.001,"y2":70}],
"pl": [{"p":1,"x":0.062,"y":100},{"p":1,"x":5.8,"y":0.11},{"p":2,"x":0.133,"y":38.3},{"p":2,"x":14.3,"y":0.0365},{"p":3,"x":0.12,"y":127},{"p":3,"x":14.4,"y":0.127}],
"blab": [{"s":"B","x":0.00213,"y":570}],
"b1": [
{"s":"sq","x":0.099,"y":0.31},{"s":"sq","x":0.342,"y":0.115},{"s":"sq","x":0.605,"y":0.047},{"s":"sq","x":1.17,"y":0.08},{"s":"sq","x":1.63,"y":0.027},{"s":"sq","x":3.08,"y":0.031},{"s":"sq","x":4.01,"y":0.0135},{"s":"sq","x":5.74,"y":0.0077},
{"s":"rc","x":0.0127,"y":5.56},{"s":"rc","x":0.0186,"y":4.06},{"s":"rc","x":0.0342,"y":1.55},{"s":"rc","x":0.0664,"y":1.08},{"s":"rc","x":0.342,"y":0.104},{"s":"rc","x":0.842,"y":0.037},{"s":"rc","x":1.74,"y":0.0135},{"s":"rc","x":4.7,"y":0.0038},{"s":"rc","x":6.29,"y":0.0011},
{"s":"gd","x":0.0127,"y":1.63},{"s":"gd","x":0.017,"y":2.83},{"s":"gd","x":0.0236,"y":0.81},{"s":"gd","x":0.0778,"y":0.849},{"s":"gd","x":0.129,"y":0.324},{"s":"gd","x":0.179,"y":0.59},{"s":"gd","x":0.605,"y":0.226},{"s":"gd","x":0.877,"y":0.029},{"s":"gd","x":1.25,"y":0.017},{"s":"gd","x":3.08,"y":0.0033},{"s":"gd","x":8.53,"y":0.0013},
{"s":"bu","x":0.0155,"y":7.78},{"s":"bu","x":0.0252,"y":2.51},{"s":"bu","x":0.0217,"y":3.3},{"s":"bu","x":0.049,"y":0.81},{"s":"bu","x":0.23,"y":0.2},{"s":"bu","x":0.325,"y":0.243},{"s":"bu","x":0.483,"y":0.06},{"s":"bu","x":1.99,"y":0.037},{"s":"bu","x":3.38,"y":0.0135},{"s":"bu","x":5.74,"y":0.0061},{"s":"bu","x":9.75,"y":0.0011},
{"s":"md","x":0.0107,"y":4.58},{"s":"md","x":0.0153,"y":2.97},{"s":"md","x":0.0308,"y":2.97},{"s":"md","x":0.047,"y":1.13},{"s":"md","x":0.0888,"y":0.7},{"s":"md","x":0.168,"y":0.55},{"s":"md","x":0.274,"y":0.243},{"s":"md","x":0.496,"y":0.124},{"s":"md","x":1.25,"y":0.0039},{"s":"md","x":1.74,"y":0.0026},{"s":"md","x":1.53,"y":0.0011},{"s":"md","x":7.0,"y":0.0011},
{"s":"pc","x":0.0149,"y":7.07},{"s":"pc","x":0.0194,"y":6.57},{"s":"pc","x":0.0391,"y":1.22},{"s":"pc","x":0.0948,"y":0.525},{"s":"pc","x":0.0832,"y":0.226},{"s":"pc","x":0.108,"y":0.13},{"s":"pc","x":0.151,"y":0.068},{"s":"pc","x":0.53,"y":0.042},{"s":"pc","x":0.877,"y":0.016},{"s":"pc","x":2.43,"y":0.019},{"s":"pc","x":4.7,"y":0.0077},{"s":"pc","x":7.0,"y":0.0048},{"s":"pc","x":8.53,"y":0.0039},
{"s":"bl","x":0.0189,"y":0.5},{"s":"bl","x":0.027,"y":2.83},{"s":"bl","x":0.124,"y":0.267},{"s":"bl","x":0.406,"y":0.165},{"s":"bl","x":0.446,"y":0.243},{"s":"bl","x":0.9,"y":0.016},{"s":"bl","x":4.12,"y":0.0059},{"s":"bl","x":3.86,"y":0.0018},{"s":"bl","x":8.53,"y":0.0027},
{"s":"br","x":0.0159,"y":5.17},{"s":"br","x":0.0203,"y":3.1},{"s":"br","x":0.0477,"y":0.393},{"s":"br","x":0.224,"y":0.366},{"s":"br","x":0.621,"y":0.031},{"s":"br","x":0.646,"y":0.097},{"s":"br","x":0.9,"y":0.086},{"s":"br","x":1.17,"y":0.047},{"s":"br","x":2.27,"y":0.037},{"s":"br","x":2.77,"y":0.033},{"s":"br","x":11.9,"y":0.0018}
],
"b2": [
{"s":"sq","x":0.0134,"y":40},{"s":"sq","x":0.0182,"y":67.6},{"s":"sq","x":0.0244,"y":33.5},{"s":"sq","x":0.0443,"y":12.4},{"s":"sq","x":0.0618,"y":4.42},{"s":"sq","x":0.0805,"y":1.1},{"s":"sq","x":0.109,"y":0.65},{"s":"sq","x":0.156,"y":0.46},{"s":"sq","x":0.196,"y":0.23},{"s":"sq","x":0.325,"y":0.65},{"s":"sq","x":0.471,"y":0.537},{"s":"sq","x":0.881,"y":0.537},{"s":"sq","x":1.23,"y":0.356},{"s":"sq","x":1.6,"y":0.316},
{"s":"gd","x":0.0187,"y":110},{"s":"gd","x":0.0244,"y":40},{"s":"gd","x":0.0318,"y":67.6},{"s":"gd","x":0.0414,"y":24.9},{"s":"gd","x":0.0562,"y":7.68},{"s":"gd","x":0.0734,"y":2.9},{"s":"gd","x":0.0957,"y":2.9},{"s":"gd","x":0.163,"y":2.15},{"s":"gd","x":0.212,"y":0.7},{"s":"gd","x":0.334,"y":0.575},{"s":"gd","x":0.631,"y":0.46},{"s":"gd","x":0.857,"y":0.187},{"s":"gd","x":1.12,"y":0.28},{"s":"gd","x":1.44,"y":0.205},{"s":"gd","x":1.9,"y":0.162},
{"s":"bu","x":0.0253,"y":82.6},{"s":"bu","x":0.034,"y":23},{"s":"bu","x":0.0414,"y":3.48},{"s":"bu","x":0.0506,"y":14},{"s":"bu","x":0.0643,"y":7.68},{"s":"bu","x":0.101,"y":3.48},{"s":"bu","x":0.128,"y":3.09},{"s":"bu","x":0.179,"y":1.18},{"s":"bu","x":0.249,"y":0.65},{"s":"bu","x":0.316,"y":0.65},{"s":"bu","x":0.413,"y":0.4},{"s":"bu","x":0.538,"y":0.4},{"s":"bu","x":0.615,"y":0.46},{"s":"bu","x":0.824,"y":0.147},{"s":"bu","x":1.03,"y":0.0715},{"s":"bu","x":1.28,"y":0.056},{"s":"bu","x":1.6,"y":0.0158},{"s":"bu","x":2.03,"y":0.0124},
{"s":"rc","x":0.0213,"y":32.4},{"s":"rc","x":0.0278,"y":11.5},{"s":"rc","x":0.0378,"y":23},{"s":"rc","x":0.0467,"y":4.22},{"s":"rc","x":0.061,"y":0.93},{"s":"rc","x":0.0774,"y":1.4},{"s":"rc","x":0.104,"y":0.383},{"s":"rc","x":0.137,"y":0.147},{"s":"rc","x":0.284,"y":0.196},{"s":"rc","x":0.381,"y":0.052},{"s":"rc","x":0.497,"y":0.04},{"s":"rc","x":0.648,"y":0.121},{"s":"rc","x":0.857,"y":0.049},{"s":"rc","x":1.1,"y":0.0186},
{"s":"md","x":0.034,"y":33.5},{"s":"md","x":0.0431,"y":14.7},{"s":"md","x":0.0562,"y":6.81},{"s":"md","x":0.0805,"y":6.81},{"s":"md","x":0.0984,"y":1.78},{"s":"md","x":0.137,"y":1.1},{"s":"md","x":0.167,"y":1.5},{"s":"md","x":0.233,"y":0.46},{"s":"md","x":0.284,"y":0.46},{"s":"md","x":0.424,"y":0.22},{"s":"md","x":0.531,"y":0.107},{"s":"md","x":0.648,"y":0.162},{"s":"md","x":0.791,"y":0.0237}
],
"b3": [
{"s":"sq","x":0.00695,"y":82.6},{"s":"sq","x":0.00977,"y":17.8},{"s":"sq","x":0.0147,"y":17.8},{"s":"sq","x":0.0367,"y":4.42},{"s":"sq","x":0.0679,"y":2.43},{"s":"sq","x":0.151,"y":0.681},{"s":"sq","x":0.212,"y":0.118},{"s":"sq","x":0.71,"y":0.0412},{"s":"sq","x":3.27,"y":0.0093},{"s":"sq","x":4.93,"y":0.0065},{"s":"sq","x":6.95,"y":0.0044},{"s":"sq","x":10.7,"y":0.0093},{"s":"sq","x":15.4,"y":0.0021},{"s":"sq","x":22,"y":0.0017},{"s":"sq","x":32,"y":0.0036},
{"s":"rc","x":0.0131,"y":88.7},{"s":"rc","x":0.0185,"y":12.4},{"s":"rc","x":0.0955,"y":2.87},{"s":"rc","x":267,"y":0.0031},
{"s":"gd","x":0.00873,"y":75},{"s":"gd","x":0.0194,"y":69.8},{"s":"gd","x":0.0292,"y":17.8},{"s":"gd","x":0.043,"y":12.4},{"s":"gd","x":0.0679,"y":3.93},{"s":"gd","x":0.0913,"y":2.05},{"s":"gd","x":23.8,"y":0.0953},{"s":"gd","x":35.8,"y":0.062},{"s":"gd","x":54.1,"y":0.0715},{"s":"gd","x":79.6,"y":0.0274},{"s":"gd","x":120,"y":0.0093},{"s":"gd","x":177,"y":0.011},
{"s":"bu","x":0.00743,"y":105},{"s":"bu","x":0.00198,"y":9.09},{"s":"bu","x":0.00327,"y":6.34},{"s":"bu","x":0.00553,"y":1.33},{"s":"bu","x":0.0082,"y":1.69},{"s":"bu","x":1.41,"y":0.0065},
{"s":"bl","x":0.0105,"y":59},{"s":"bl","x":0.0207,"y":17.8},{"s":"bl","x":0.0343,"y":8.45},{"s":"bl","x":0.0727,"y":1.69},{"s":"bl","x":0.212,"y":0.536},{"s":"bl","x":21.7,"y":0.0523},{"s":"bl","x":16.1,"y":0.02},{"s":"bl","x":45,"y":0.02},{"s":"bl","x":59.2,"y":0.0036},{"s":"bl","x":141,"y":0.0031},{"s":"bl","x":198,"y":0.0018},
{"s":"br","x":0.0117,"y":40.2},{"s":"br","x":0.0161,"y":30.1},{"s":"br","x":0.0482,"y":5.9},{"s":"br","x":0.076,"y":6.81},{"s":"br","x":0.135,"y":2.43},{"s":"br","x":4.6,"y":0.011},{"s":"br","x":32,"y":0.0056},{"s":"br","x":43,"y":0.0324},{"s":"br","x":93.3,"y":0.0044},
{"s":"st","x":0.00695,"y":34},{"s":"st","x":0.0105,"y":19.6},{"s":"st","x":0.0154,"y":10.2},{"s":"st","x":0.0194,"y":7.6},{"s":"st","x":0.0243,"y":7.6},{"s":"st","x":0.0482,"y":4.12},{"s":"st","x":0.0727,"y":2.43},{"s":"st","x":0.12,"y":1.4},{"s":"st","x":0.169,"y":1.5},{"s":"st","x":0.267,"y":0.453},{"s":"st","x":0.335,"y":0.37},{"s":"st","x":2.22,"y":0.0093},{"s":"st","x":43,"y":0.0036},{"s":"st","x":63.4,"y":0.0018},
{"s":"pc","x":0.00815,"y":4.22},{"s":"pc","x":0.0147,"y":4.22},{"s":"pc","x":0.0255,"y":3.05},{"s":"pc","x":0.0482,"y":4.22},{"s":"pc","x":0.0367,"y":1.07},{"s":"pc","x":0.0955,"y":1.24},{"s":"pc","x":0.135,"y":1.4},{"s":"pc","x":0.189,"y":1.24},{"s":"pc","x":0.151,"y":0.261},{"s":"pc","x":0.285,"y":0.37},{"s":"pc","x":0.285,"y":0.261},{"s":"pc","x":0.471,"y":0.261},{"s":"pc","x":0.471,"y":0.118},{"s":"pc","x":50,"y":0.0036},{"s":"pc","x":100,"y":0.0018},
{"s":"md","x":0.00299,"y":4.22},{"s":"md","x":0.00471,"y":0.787}
]
},
"concat": [
{
 "width": 202, "height": 240,
 "encoding": {
  "x": {"field": "t", "type": "quantitative", "scale": {"domain": [0, 210], "nice": false, "zero": false}, "axis": null},
  "y": {"field": "v", "type": "quantitative", "scale": {"domain": [0, 200], "nice": false, "zero": false}, "axis": null}
 },
 "layer": [
  {"data": {"name": "a1"}, "mark": {"type": "line", "stroke": "#1a1a1a", "strokeWidth": 1}, "encoding": {"detail": {"field": "k", "type": "nominal"}}},
  {"data": {"name": "ann"}, "transform": [{"filter": "datum.p == 'a1' && datum.g == 'ttl'"}], "mark": {"type": "text", "align": "left", "baseline": "middle", "fontWeight": "bold", "fontSize": 20, "color": "#1a1a1a"}, "encoding": {"text": {"field": "s"}}},
  {"data": {"name": "ann"}, "transform": [{"filter": "datum.p == 'a1' && datum.g == 'big'"}], "mark": {"type": "text", "align": "center", "baseline": "middle", "fontWeight": "bold", "fontSize": 29, "color": "#1a1a1a"}, "encoding": {"text": {"field": "s"}}},
  {"data": {"name": "ann"}, "transform": [{"filter": "datum.p == 'a1' && datum.g == 'sb'"}], "mark": {"type": "text", "align": "center", "baseline": "middle", "fontWeight": "bold", "fontSize": 16, "color": "#1a1a1a"}, "encoding": {"text": {"field": "s"}}},
  {"data": {"name": "sbar"}, "transform": [{"filter": "datum.p == 'a1'"}], "mark": {"type": "rule", "strokeWidth": 2, "color": "#1a1a1a"}, "encoding": {"x2": {"field": "t2"}}},
  {"data": {"name": "vbar"}, "mark": {"type": "rule", "strokeWidth": 3, "color": "#1a1a1a"}, "encoding": {"y2": {"field": "v2"}}}
 ]
},
{
 "width": 202, "height": 240,
 "encoding": {
  "x": {"field": "t", "type": "quantitative", "scale": {"domain": [0, 210], "nice": false, "zero": false}, "axis": null},
  "y": {"field": "v", "type": "quantitative", "scale": {"domain": [0, 200], "nice": false, "zero": false}, "axis": null}
 },
 "layer": [
  {"data": {"name": "a2"}, "mark": {"type": "line", "stroke": "#1a1a1a", "strokeWidth": 1}, "encoding": {"detail": {"field": "k", "type": "nominal"}}},
  {"data": {"name": "ann"}, "transform": [{"filter": "datum.p == 'a2' && datum.g == 'ttl'"}], "mark": {"type": "text", "align": "left", "baseline": "middle", "fontWeight": "bold", "fontSize": 20, "color": "#1a1a1a"}, "encoding": {"text": {"field": "s"}}},
  {"data": {"name": "ann"}, "transform": [{"filter": "datum.p == 'a2' && datum.g == 'sb'"}], "mark": {"type": "text", "align": "center", "baseline": "middle", "fontWeight": "bold", "fontSize": 16, "color": "#1a1a1a"}, "encoding": {"text": {"field": "s"}}},
  {"data": {"name": "sbar"}, "transform": [{"filter": "datum.p == 'a2'"}], "mark": {"type": "rule", "strokeWidth": 2, "color": "#1a1a1a"}, "encoding": {"x2": {"field": "t2"}}}
 ]
},
{
 "width": 202, "height": 240,
 "encoding": {
  "x": {"field": "t", "type": "quantitative", "scale": {"domain": [0, 210], "nice": false, "zero": false}, "axis": null},
  "y": {"field": "v", "type": "quantitative", "scale": {"domain": [0, 200], "nice": false, "zero": false}, "axis": null}
 },
 "layer": [
  {"data": {"name": "a3"}, "mark": {"type": "line", "stroke": "#1a1a1a", "strokeWidth": 1}, "encoding": {"detail": {"field": "k", "type": "nominal"}}},
  {"data": {"name": "ann"}, "transform": [{"filter": "datum.p == 'a3' && datum.g == 'ttl'"}], "mark": {"type": "text", "align": "left", "baseline": "middle", "fontWeight": "bold", "fontSize": 20, "color": "#1a1a1a"}, "encoding": {"text": {"field": "s"}}},
  {"data": {"name": "ann"}, "transform": [{"filter": "datum.p == 'a3' && datum.g == 'sb'"}], "mark": {"type": "text", "align": "center", "baseline": "middle", "fontWeight": "bold", "fontSize": 16, "color": "#1a1a1a"}, "encoding": {"text": {"field": "s"}}},
  {"data": {"name": "sbar"}, "transform": [{"filter": "datum.p == 'a3'"}], "mark": {"type": "rule", "strokeWidth": 2, "color": "#1a1a1a"}, "encoding": {"x2": {"field": "t2"}}}
 ]
},
{
 "width": 202, "height": 159,
 "encoding": {
  "x": {"field": "x", "type": "quantitative", "scale": {"type": "log", "domain": [0.01, 30], "nice": false},
   "axis": {"title": "Size s (λ/Λ)", "values": [0.01,0.02,0.03,0.04,0.05,0.06,0.07,0.08,0.09,0.1,0.2,0.3,0.4,0.5,0.6,0.7,0.8,0.9,1,2,3,4,5,6,7,8,9,10,20,30],
    "labelExpr": "datum.value == 0.01 ? '0.01' : datum.value == 0.1 ? '0.1' : datum.value == 1 ? '1' : datum.value == 10 ? '10' : datum.value == 100 ? '100' : ''",
    "tickSize": {"condition": {"test": "abs(log(datum.value) / LN10 - round(log(datum.value) / LN10)) < 0.01", "value": -5}, "value": -2.5},
    "labelPadding": 11, "titlePadding": 2}},
  "y": {"field": "y", "type": "quantitative", "scale": {"type": "log", "domain": [0.001, 100], "nice": false},
   "axis": {"title": "PDF", "values": [0.001,0.002,0.003,0.004,0.005,0.006,0.007,0.008,0.009,0.01,0.02,0.03,0.04,0.05,0.06,0.07,0.08,0.09,0.1,0.2,0.3,0.4,0.5,0.6,0.7,0.8,0.9,1,2,3,4,5,6,7,8,9,10,20,30,40,50,60,70,80,90,100],
    "labelExpr": "datum.value == 100 ? '10²' : datum.value == 0.001 ? '10⁻³' : ''",
    "tickSize": {"condition": {"test": "abs(log(datum.value) / LN10 - round(log(datum.value) / LN10)) < 0.01", "value": -5}, "value": -2.5},
    "labelOffset": -3, "labelPadding": 9, "titlePadding": -6}}
 },
 "layer": [
  {"data": {"name": "vl"}, "transform": [{"filter": "datum.p == 1"}], "mark": {"type": "rule", "strokeDash": [1.5, 1.5], "color": "#555", "strokeWidth": 1}, "encoding": {"y2": {"field": "y2"}}},
  {"data": {"name": "pl"}, "transform": [{"filter": "datum.p == 1"}], "mark": {"type": "line", "color": "#333", "strokeWidth": 1, "strokeDash": [4, 1]}, "encoding": {}},
  {"data": {"name": "b1"}, "mark": {"type": "point", "filled": true, "size": 30, "opacity": 1},
   "encoding": {
    "shape": {"field": "s", "type": "nominal", "legend": null, "scale": {"domain": ["sq","rc","gd","bu","md","pc","bl","br","st"], "range": ["square","circle","diamond","triangle-up","triangle-down","circle","triangle-left","triangle-right","M0,-1L0.2245,-0.309L0.951,-0.309L0.363,0.118L0.588,0.809L0,0.382L-0.588,0.809L-0.363,0.118L-0.951,-0.309L-0.2245,-0.309Z"]}},
    "color": {"field": "s", "type": "nominal", "legend": null, "scale": {"domain": ["sq","rc","gd","bu","md","pc","bl","br","st"], "range": ["#111111","#d71f27","#3d9447","#2b3190","#a8278f","#7f2b8e","#2b3190","#2b3190","#8c3b3b"]}}
   }},
  {"data": {"name": "blab"}, "mark": {"type": "text", "fontSize": 29, "fontWeight": "bold", "align": "center", "baseline": "middle", "color": "#1a1a1a"}, "encoding": {"text": {"field": "s"}}}
 ]
},
{
 "width": 202, "height": 159,
 "encoding": {
  "x": {"field": "x", "type": "quantitative", "scale": {"type": "log", "domain": [0.01, 30], "nice": false},
   "axis": {"title": "Size s (λ/Λ)", "values": [0.01,0.02,0.03,0.04,0.05,0.06,0.07,0.08,0.09,0.1,0.2,0.3,0.4,0.5,0.6,0.7,0.8,0.9,1,2,3,4,5,6,7,8,9,10,20,30],
    "labelExpr": "datum.value == 0.01 ? '0.01' : datum.value == 0.1 ? '0.1' : datum.value == 1 ? '1' : datum.value == 10 ? '10' : datum.value == 100 ? '100' : ''",
    "tickSize": {"condition": {"test": "abs(log(datum.value) / LN10 - round(log(datum.value) / LN10)) < 0.01", "value": -5}, "value": -2.5},
    "labelPadding": 11, "titlePadding": 2}},
  "y": {"field": "y", "type": "quantitative", "scale": {"type": "log", "domain": [0.001, 100], "nice": false},
   "axis": {"title": "PDF", "values": [0.001,0.002,0.003,0.004,0.005,0.006,0.007,0.008,0.009,0.01,0.02,0.03,0.04,0.05,0.06,0.07,0.08,0.09,0.1,0.2,0.3,0.4,0.5,0.6,0.7,0.8,0.9,1,2,3,4,5,6,7,8,9,10,20,30,40,50,60,70,80,90,100],
    "labelExpr": "datum.value == 100 ? '10²' : datum.value == 0.001 ? '10⁻³' : ''",
    "tickSize": {"condition": {"test": "abs(log(datum.value) / LN10 - round(log(datum.value) / LN10)) < 0.01", "value": -5}, "value": -2.5},
    "labelOffset": -3, "labelPadding": 9, "titlePadding": -6}}
 },
 "layer": [
  {"data": {"name": "vl"}, "transform": [{"filter": "datum.p == 2"}], "mark": {"type": "rule", "strokeDash": [1.5, 1.5], "color": "#555", "strokeWidth": 1}, "encoding": {"y2": {"field": "y2"}}},
  {"data": {"name": "pl"}, "transform": [{"filter": "datum.p == 2"}], "mark": {"type": "line", "color": "#333", "strokeWidth": 1, "strokeDash": [4, 1]}, "encoding": {}},
  {"data": {"name": "b2"}, "mark": {"type": "point", "filled": true, "size": 30, "opacity": 1},
   "encoding": {
    "shape": {"field": "s", "type": "nominal", "legend": null, "scale": {"domain": ["sq","rc","gd","bu","md","pc","bl","br","st"], "range": ["square","circle","diamond","triangle-up","triangle-down","circle","triangle-left","triangle-right","M0,-1L0.2245,-0.309L0.951,-0.309L0.363,0.118L0.588,0.809L0,0.382L-0.588,0.809L-0.363,0.118L-0.951,-0.309L-0.2245,-0.309Z"]}},
    "color": {"field": "s", "type": "nominal", "legend": null, "scale": {"domain": ["sq","rc","gd","bu","md","pc","bl","br","st"], "range": ["#111111","#d71f27","#3d9447","#2b3190","#a8278f","#7f2b8e","#2b3190","#2b3190","#8c3b3b"]}}
   }}
 ]
},
{
 "width": 202, "height": 159,
 "encoding": {
  "x": {"field": "x", "type": "quantitative", "scale": {"type": "log", "domain": [0.001, 1000], "nice": false},
   "axis": {"title": "Size s (λ/Λ)", "values": [0.001,0.002,0.003,0.004,0.005,0.006,0.007,0.008,0.009,0.01,0.02,0.03,0.04,0.05,0.06,0.07,0.08,0.09,0.1,0.2,0.3,0.4,0.5,0.6,0.7,0.8,0.9,1,2,3,4,5,6,7,8,9,10,20,30,40,50,60,70,80,90,100,200,300,400,500,600,700,800,900,1000],
    "labelExpr": "datum.value == 0.01 ? '0.01' : datum.value == 0.1 ? '0.1' : datum.value == 1 ? '1' : datum.value == 10 ? '10' : datum.value == 100 ? '100' : ''",
    "tickSize": {"condition": {"test": "abs(log(datum.value) / LN10 - round(log(datum.value) / LN10)) < 0.01", "value": -5}, "value": -2.5},
    "labelPadding": 11, "titlePadding": 2}},
  "y": {"field": "y", "type": "quantitative", "scale": {"type": "log", "domain": [0.001, 100], "nice": false},
   "axis": {"title": "PDF", "values": [0.001,0.002,0.003,0.004,0.005,0.006,0.007,0.008,0.009,0.01,0.02,0.03,0.04,0.05,0.06,0.07,0.08,0.09,0.1,0.2,0.3,0.4,0.5,0.6,0.7,0.8,0.9,1,2,3,4,5,6,7,8,9,10,20,30,40,50,60,70,80,90,100],
    "labelExpr": "datum.value == 100 ? '10²' : datum.value == 0.001 ? '10⁻³' : ''",
    "tickSize": {"condition": {"test": "abs(log(datum.value) / LN10 - round(log(datum.value) / LN10)) < 0.01", "value": -5}, "value": -2.5},
    "labelOffset": -3, "labelPadding": 9, "titlePadding": -6}}
 },
 "layer": [
  {"data": {"name": "vl"}, "transform": [{"filter": "datum.p == 3"}], "mark": {"type": "rule", "strokeDash": [1.5, 1.5], "color": "#555", "strokeWidth": 1}, "encoding": {"y2": {"field": "y2"}}},
  {"data": {"name": "pl"}, "transform": [{"filter": "datum.p == 3"}], "mark": {"type": "line", "color": "#333", "strokeWidth": 1, "strokeDash": [4, 1]}, "encoding": {}},
  {"data": {"name": "b3"}, "mark": {"type": "point", "filled": true, "size": 30, "opacity": 1},
   "encoding": {
    "shape": {"field": "s", "type": "nominal", "legend": null, "scale": {"domain": ["sq","rc","gd","bu","md","pc","bl","br","st"], "range": ["square","circle","diamond","triangle-up","triangle-down","circle","triangle-left","triangle-right","M0,-1L0.2245,-0.309L0.951,-0.309L0.363,0.118L0.588,0.809L0,0.382L-0.588,0.809L-0.363,0.118L-0.951,-0.309L-0.2245,-0.309Z"]}},
    "color": {"field": "s", "type": "nominal", "legend": null, "scale": {"domain": ["sq","rc","gd","bu","md","pc","bl","br","st"], "range": ["#111111","#d71f27","#3d9447","#2b3190","#a8278f","#7f2b8e","#2b3190","#2b3190","#8c3b3b"]}}
   }}
 ]
}
]
}
